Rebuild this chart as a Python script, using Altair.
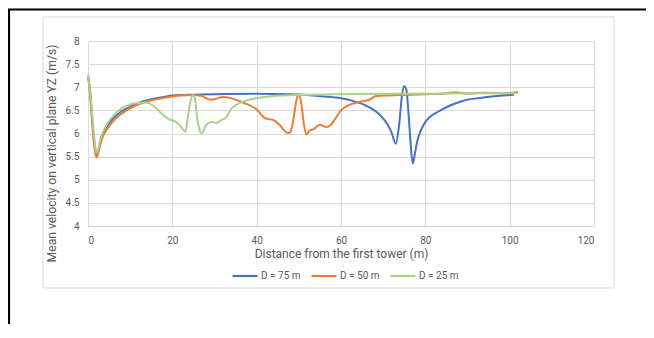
import altair as alt
import pandas as pd

series_names = ["D = 75 m", "D = 50 m", "D = 25 m"]
colors = ["#4472C4", "#ED7D31", "#A9D18E"]

x75 = [0, 0.5, 1, 1.5, 2, 2.5, 3, 4, 5, 6, 8, 10, 12, 15, 18, 20, 25, 30, 40, 48, 52, 56, 60, 63, 66, 69, 71, 72, 73, 73.8, 74.5, 75, 75.5, 76, 76.5, 77, 77.5, 78, 79, 80, 81, 83, 86, 89, 93, 97, 101]
y75 = [7.25, 6.9, 6.3, 5.8, 5.55, 5.65, 5.85, 6.08, 6.22, 6.33, 6.48, 6.58, 6.66, 6.74, 6.79, 6.82, 6.84, 6.85, 6.86, 6.85, 6.83, 6.8, 6.76, 6.7, 6.6, 6.42, 6.2, 6.02, 5.78, 6.2, 6.85, 7.02, 6.95, 6.45, 5.8, 5.35, 5.55, 5.8, 6.08, 6.25, 6.35, 6.47, 6.61, 6.71, 6.77, 6.81, 6.84]

x50 = [0, 0.5, 1, 1.5, 2, 2.5, 3, 4, 5, 6, 8, 10, 12, 15, 18, 20, 22, 25, 27, 29, 30, 32, 34, 37, 40, 42, 44, 45.5, 47.4, 48, 48.7, 49.5, 50, 50.5, 51.2, 51.8, 52.5, 53.4, 55, 56.5, 57.5, 58.5, 60, 62, 64.3, 66.7, 68.3, 70, 74, 80, 84, 87.3, 89.7, 94, 98, 102]
y50 = [7.25, 6.85, 6.2, 5.7, 5.48, 5.6, 5.8, 6.02, 6.15, 6.27, 6.43, 6.55, 6.63, 6.72, 6.77, 6.8, 6.82, 6.83, 6.81, 6.73, 6.74, 6.79, 6.76, 6.66, 6.52, 6.33, 6.29, 6.18, 6.01, 6.03, 6.3, 6.75, 6.85, 6.7, 6.2, 5.98, 6.06, 6.09, 6.19, 6.14, 6.18, 6.3, 6.5, 6.62, 6.68, 6.73, 6.81, 6.82, 6.83, 6.85, 6.86, 6.89, 6.86, 6.88, 6.87, 6.89]

x25 = [0, 0.5, 1, 1.5, 2, 2.5, 3, 4, 5, 6, 8, 10, 12, 13.5, 14.6, 16.2, 17.8, 19.4, 20.9, 22.1, 23.1, 23.7, 24.3, 24.8, 25.3, 25.8, 26.4, 26.9, 28, 29.2, 30.4, 31.6, 32.8, 34, 36, 37.5, 39.9, 43.9, 48.6, 55, 60, 70, 80, 90, 101]
y25 = [7.25, 6.95, 6.4, 5.9, 5.58, 5.7, 5.9, 6.12, 6.27, 6.38, 6.55, 6.63, 6.66, 6.67, 6.65, 6.54, 6.4, 6.3, 6.25, 6.14, 6.04, 6.36, 6.7, 6.82, 6.78, 6.4, 6.1, 6.0, 6.18, 6.25, 6.23, 6.29, 6.35, 6.54, 6.66, 6.71, 6.76, 6.81, 6.83, 6.84, 6.85, 6.86, 6.86, 6.87, 6.87]

x_ticks = [0, 20, 40, 60, 80, 100, 120]
y_ticks = [4, 4.5, 5, 5.5, 6, 6.5, 7, 7.5, 8]

rows = []
for name, xs, ys in zip(series_names, [x75, x50, x25], [y75, y50, y25]):
    for i, (a, b) in enumerate(zip(xs, ys)):
        rows.append({"series": name, "x": a, "y": b, "order": i})
df = pd.DataFrame(rows)

FONT = "Roboto, sans-serif"
W, H = 506, 185

one = alt.Data(values=[{}])
outer = alt.Chart(one).mark_rect(fill=None, stroke="#000000", strokeWidth=2.2).encode(
    x=alt.value(-79), x2=alt.value(W + 400), y=alt.value(-31.5), y2=alt.value(H + 400)
)
card = alt.Chart(one).mark_rect(fill=None, stroke="#D9D9D9", strokeWidth=1).encode(
    x=alt.value(-45), x2=alt.value(526), y=alt.value(-24), y2=alt.value(247)
)

lines = alt.Chart(df).mark_line(strokeWidth=2, interpolate="monotone").encode(
    x=alt.X("x:Q", scale=alt.Scale(domain=[0, 120], nice=False),
            axis=alt.Axis(values=x_ticks, title="Distance from the first tower (m)", grid=True,
                          labelPadding=9, titlePadding=3, titleFontSize=12)),
    y=alt.Y("y:Q", scale=alt.Scale(domain=[4, 8], nice=False, zero=False),
            axis=alt.Axis(values=y_ticks, format=".1~f", title="Mean velocity on vertical plane YZ (m/s)",
                          grid=True, labelPadding=9, titlePadding=7, titleFontSize=12.2, titleY=112)),
    color=alt.Color("series:N", scale=alt.Scale(domain=series_names, range=colors),
                    legend=alt.Legend(title=None, orient="none", direction="horizontal",
                                      legendX=143, legendY=221, symbolType="stroke",
                                      symbolSize=625, symbolStrokeWidth=2.2, columnPadding=6,
                                      labelOffset=2, labelFontSize=10, labelColor="#595959",
                                      labelFont=FONT)),
    order="order:Q",
)

chart = alt.layer(outer, card, lines).properties(
    width=W, height=H,
    autosize=alt.AutoSizeParams(type="none"),
    padding={"left": 80, "top": 33, "right": 52, "bottom": 98},
).configure_view(stroke="#D9D9D9", strokeWidth=1).configure_axis(
    domain=False, ticks=False, gridColor="#D9D9D9", gridWidth=1,
    labelFont=FONT, labelFontSize=10, labelColor="#595959",
    titleFont=FONT, titleColor="#595959", titleFontWeight="normal",
)

chart.save("out.html", embed_options={"renderer": "svg", "actions": False})
